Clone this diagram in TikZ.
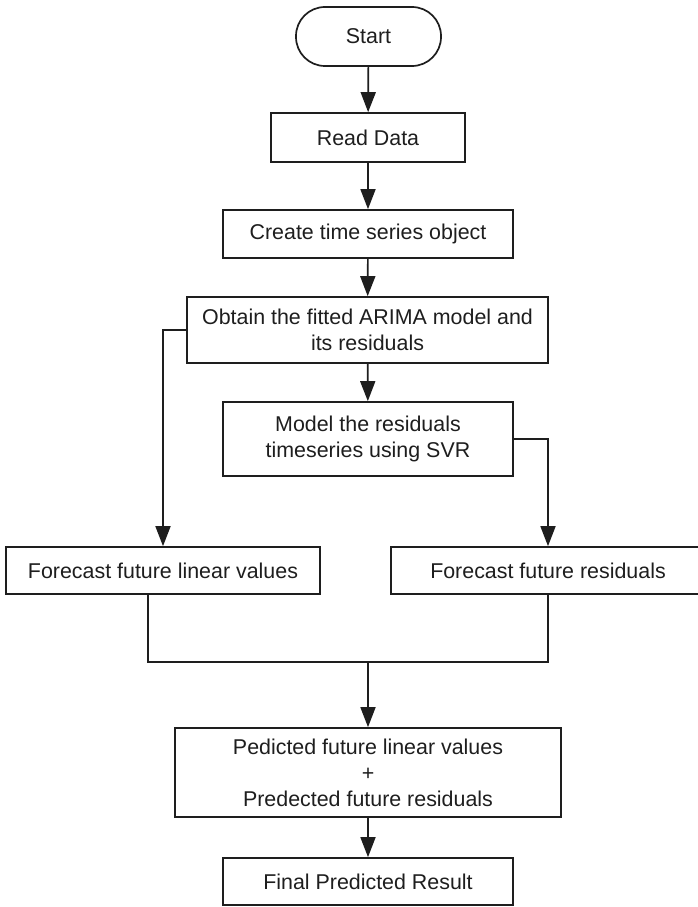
\documentclass[tikz,border=0pt]{standalone}
\usepackage{fontspec}
\setmainfont{Liberation Sans}
\usetikzlibrary{arrows.meta}
\definecolor{ink}{HTML}{1E1E1E}
\tikzset{
  box/.style={draw=ink, line width=1.7pt, rectangle, inner sep=0pt, align=center,
    text=ink, font=\fontsize{21.4}{26}\selectfont},
  term/.style={box, rounded corners=29pt},
  link/.style={draw=ink, line width=1.7pt},
  arr/.style={link, -{Triangle[length=20pt,width=15pt]}}
}
\begin{document}
\begin{tikzpicture}[x=1pt, y=-1pt]
  \useasboundingbox[fill=white] (0,0) rectangle (698,907);
  \clip (0,0) rectangle (698,907);
  % process steps
  \node[term, minimum width=145pt, minimum height=59pt] (start) at (368.5,36.5) {Start};
  \node[box, minimum width=194pt, minimum height=49pt] (read) at (368,137.5) {Read Data};
  \node[box, minimum width=290pt, minimum height=48pt] (create) at (368,234) {Create time series object};
  \node[box, minimum width=361pt, minimum height=66pt] (obtain) at (367.5,330) {Obtain the fitted ARIMA model and\\its residuals};
  \node[box, minimum width=290pt, minimum height=74pt] (model) at (368,439) {Model the residuals\\timeseries using SVR};
  \node[box, minimum width=314pt, minimum height=47pt] (flin) at (163,570.5) {Forecast future linear values};
  \node[box, minimum width=314pt, minimum height=47pt] (fres) at (548,570.5) {Forecast future residuals};
  \node[box, minimum width=386pt, minimum height=89pt] (pred) at (368,772.5) {Pedicted future linear values\\+\\Predected future residuals};
  \node[box, minimum width=290pt, minimum height=47pt] (final) at (368,881.5) {Final Predicted Result};
  % junction of the two forecasts
  \coordinate (joinL) at (148,662);
  \coordinate (merge) at (368,662);
  % connectors
  \draw[arr] (start) -- (read);
  \draw[arr] (read) -- (create);
  \draw[arr] (create) -- (obtain);
  \draw[arr] (obtain) -- (model);
  \draw[arr] (obtain.west) -| (flin.north);
  \draw[arr] (model.east) -| (fres.north);
  \draw[link] (flin.south -| joinL) -- (joinL) -- (merge) -| (fres.south);
  \draw[arr] (merge) -- (pred);
  \draw[arr] (pred) -- (final);
\end{tikzpicture}
\end{document}
